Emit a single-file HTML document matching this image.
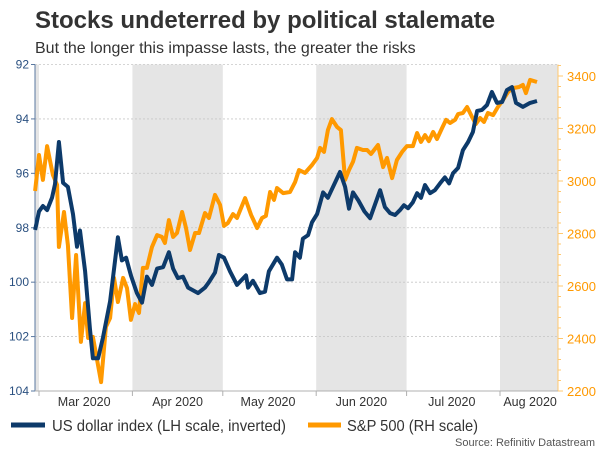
<!DOCTYPE html>
<html><head><meta charset="utf-8"><style>
body{margin:0;background:#fff;width:600px;height:450px;overflow:hidden;font-family:"Liberation Sans",Arial,sans-serif}
</style></head><body>
<svg width="600" height="450" xmlns="http://www.w3.org/2000/svg" style="font-family:'Liberation Sans',Arial,sans-serif">
<text x="35" y="28" font-size="24" font-weight="bold" fill="#333">Stocks undeterred by political stalemate</text>
<text x="35" y="53" font-size="16" fill="#333">But the longer this impasse lasts, the greater the risks</text>
<g id="bands"></g><g id="grid"></g><g id="axes"></g><g id="series"></g>
<g>
<line x1="11" y1="425" x2="45" y2="425" stroke="#0d3a6a" stroke-width="5"/>
<text x="52" y="431" font-size="16" fill="#333" textLength="234" lengthAdjust="spacingAndGlyphs">US dollar index (LH scale, inverted)</text>
<line x1="308" y1="425" x2="341" y2="425" stroke="#ff9900" stroke-width="5"/>
<text x="347" y="431" font-size="16" fill="#333" textLength="131" lengthAdjust="spacingAndGlyphs">S&amp;P 500 (RH scale)</text>
</g>
<text x="595" y="446" font-size="11" fill="#555" text-anchor="end">Source: Refinitiv Datastream</text>
</svg>
<script>
const usdDays=[-1.3,0,1.3,2.7,4.3,5.3,6.6,8,9.6,11.3,12.6,13.6,15.3,16.9,17.9,19.6,21.2,23.6,26.2,27.5,28.9,30.5,32.5,34.2,35.8,37.5,39.2,41.2,43.1,44.5,46.1,47.8,49.5,52.8,55.1,56.4,58.4,59.7,61.4,63.4,65.7,68.7,69.4,71,73.3,75,76.3,79,80.6,82.3,84,85,86.6,87.6,89.3,90.6,92.3,94.3,95.9,99.9,101.6,102.9,104.2,106,108,109.9,113.2,114.8,116.5,118.2,119.8,121.1,122.5,124.1,125.5,126.8,128.1,129.8,131.4,133.1,134.7,136.1,137.4,139.1,140.7,142.4,144,145.4,147,148.7,150.3,152,153.7,155.3,157,158.3,160.6,163,165.3];
const usdValues=[98.08,97.4,97.2,97.35,96.9,96.4,94.85,96.35,96.5,97.5,98.7,98.1,99.6,101.7,102.8,102.8,102.05,100.7,98.35,99.2,99.1,99.75,100.4,100.75,99.8,100.1,99.5,99.45,98.9,99.5,99.85,99.8,100.2,100.4,100.2,100,99.65,99.0,99.1,99.6,100.1,99.75,100.2,99.95,100.4,100.35,99.6,99.1,99.35,99.9,99.9,98.9,99.1,98.4,98.27,97.8,97.5,96.7,96.9,95.95,96.5,97.3,96.7,97.0,97.4,97.65,96.62,97.24,97.46,97.53,97.35,97.17,97.28,97.06,96.73,96.9,96.43,96.73,96.62,96.37,96.15,96.37,96.0,95.8,95.15,94.85,94.48,93.71,93.67,93.49,93.01,93.41,93.38,92.94,92.83,93.41,93.56,93.41,93.34];
const spDays=[-1.3,0,1.3,2.7,4.6,6,6.6,8.3,9.6,11,12.3,13.9,15.3,16.3,17.9,20.6,22.2,23.6,24.9,26.2,27.9,29.2,30.5,31.9,33.2,34.5,35.8,37.5,39.2,40.8,41.8,43.1,44.5,45.8,47.5,48.8,50.1,51.8,53.1,55.1,56.4,58.4,60.1,61.4,62.7,64.4,65.7,68.4,70.4,72.4,74,75.3,76.7,78,79,81,83.3,85,86.3,88.3,90.6,92.3,93.3,94.6,95.9,97.2,98.9,100.2,101.6,102.9,104.2,105.5,107.5,108.9,110.2,112.5,114.2,115.5,117.2,118.8,120.5,122.1,124.1,125.5,126.8,128.1,129.4,130.8,132.1,133.8,135.1,136.4,138.1,139.1,140.7,142.1,143.7,145,146.4,147.7,149,150.7,152.3,154,155.7,157.3,159.3,160.6,161.6,163,165.3];
const spValues=[2962,3099,3004,3133,3023,2985,2749,2882,2756,2478,2718,2387,2535,2402,2406,2234,2444,2478,2631,2539,2631,2592,2471,2531,2497,2669,2669,2749,2794,2787,2764,2851,2787,2802,2882,2821,2737,2802,2802,2878,2859,2947,2909,2829,2840,2874,2859,2935,2871,2821,2859,2867,2958,2928,2973,2954,2958,2996,3042,3031,3061,3088,3126,3111,3194,3236,3206,3194,3004,3042,3073,3126,3118,3118,3103,3137,3053,3088,3011,3080,3111,3133,3133,3183,3149,3175,3152,3187,3160,3202,3233,3221,3233,3255,3259,3282,3244,3217,3240,3225,3259,3251,3282,3309,3339,3354,3358,3366,3335,3385,3377];
const leftTicks=[92,94,96,98,100,102,104];
const rightTicks=[2200,2400,2600,2800,3000,3200,3400];
const monthLabels=["Mar 2020","Apr 2020","May 2020","Jun 2020","Jul 2020","Aug 2020"];
const monthStartDays=[0,31,61,92,122,153];
const monthLabelDays=[15,46,76,107,137,163];
const shadedBands=[[-1.6,0],[31,61],[92,122],[153,172.3]];

const X0=35,X1=558,Y0=64.5,Y1=391;
const xS=d=>39+d*3.013;
const yL=v=>Y0+(v-92)/12*(Y1-Y0);
const yR=v=>Y1-(v-2200)/1200*(Y1-76);
const NS="http://www.w3.org/2000/svg";
function mk(tag,attrs,parent){const e=document.createElementNS(NS,tag);for(const k in attrs)e.setAttribute(k,attrs[k]);document.getElementById(parent).appendChild(e);return e;}

shadedBands.forEach(b=>{
 const a=Math.max(X0,xS(b[0])),z=Math.min(X1,xS(b[1]));
 const r=mk('rect',{x:a,y:Y0,width:z-a,height:Y1-Y0,fill:'#e5e5e5'},'bands');
 
 
});
leftTicks.forEach(t=>{
 const y=yL(t);
 if(t!==104){const g=mk('line',{x1:X0,x2:X1,y1:y,y2:y,stroke:'#c8c8c8','stroke-dasharray':'2,2','stroke-width':0.8},'grid');
 
 }
 mk('line',{x1:X0-4,x2:X0,y1:y,y2:y,stroke:'#5a78a0'},'axes');
 const tx=mk('text',{x:X0-6,y:y+4,'font-size':12,fill:'#2a5080','text-anchor':'end'},'axes');
 tx.textContent=t;
 
 
});
for(let v=2200;v<=3440;v+=40){const y=yR(v);if(y<Y0)break;mk('line',{x1:X1,x2:X1+(v%200===0?5:3),y1:y,y2:y,stroke:'#ffc870'},'axes');}
rightTicks.forEach(t=>{
 const y=yR(t);
 const tx=mk('text',{x:X1+9,y:y+5,'font-size':13,fill:'#ff9900'},'axes');
 tx.textContent=t;
 
 
});
const la=mk('line',{x1:X0,x2:X0,y1:Y0,y2:Y1,stroke:'#5a78a0'},'axes');


const ra=mk('line',{x1:X1,x2:X1,y1:Y0,y2:Y1,stroke:'#ffc870'},'axes');


const xa=mk('line',{x1:X0,x2:X1,y1:Y1,y2:Y1,stroke:'#b0b0b0'},'axes');


monthStartDays.forEach(d=>{mk('line',{x1:xS(d),x2:xS(d),y1:Y1,y2:Y1+5,stroke:'#b0b0b0'},'axes');});
monthLabels.forEach((m,i)=>{
 const tx=mk('text',{x:xS(monthLabelDays[i]),y:Y1+15,'font-size':12.5,fill:'#333','text-anchor':'middle'},'axes');
 tx.textContent=m;
 
 
});
const sp=mk('polyline',{points:spDays.map((d,i)=>xS(d).toFixed(1)+','+yR(spValues[i]).toFixed(1)).join(' '),fill:'none',stroke:'#ff9900','stroke-width':4,'stroke-linejoin':'round'},'series');


const us=mk('polyline',{points:usdDays.map((d,i)=>xS(d).toFixed(1)+','+yL(usdValues[i]).toFixed(1)).join(' '),fill:'none',stroke:'#0d3a6a','stroke-width':4,'stroke-linejoin':'round'},'series');


</script>
</body></html>
